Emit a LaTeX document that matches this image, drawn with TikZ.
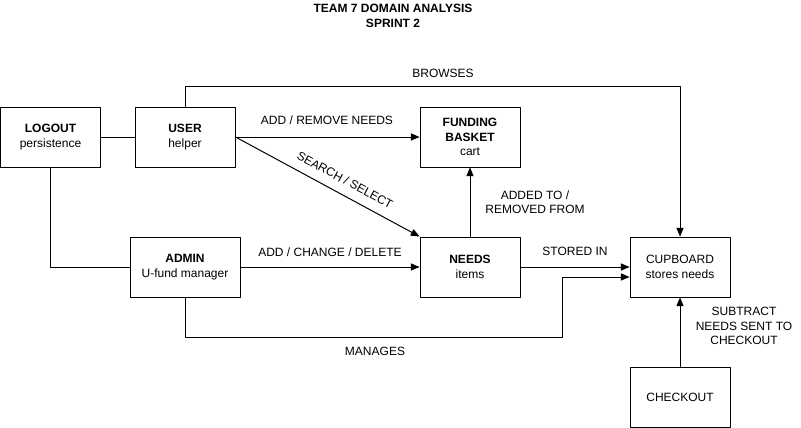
\documentclass[tikz,border=0pt]{standalone}
\usepackage{fontspec}
\setmainfont{Liberation Sans}
\usetikzlibrary{arrows}

\tikzset{
  entity/.style={draw,line width=1pt,minimum width=100pt,minimum height=60pt,inner sep=0pt,align=center,font=\fontsize{12}{14.5}\selectfont},
  tag/.style={align=center,inner sep=1pt,font=\fontsize{12}{14.5}\selectfont},
}

\begin{document}
\begin{tikzpicture}[line cap=round,line join=round,>=triangle 45,x=1pt,y=-1pt,line width=1pt]
\useasboundingbox (0,0) rectangle (801,428);
\node[tag,font=\bfseries\fontsize{12}{15}\selectfont] (title) at (393,16) {TEAM 7 DOMAIN ANALYSIS\\SPRINT 2};
% boxes
\node[entity] (logout) at (50.5,137) {\textbf{LOGOUT}\\persistence};
\node[entity] (user) at (185,137) {\textbf{USER}\\helper};
\node[entity] (basket) at (470,137) {\textbf{FUNDING}\\\textbf{BASKET}\\cart};
\node[entity,minimum width=110pt] (admin) at (185,267) {\textbf{ADMIN}\\U-fund manager};
\node[entity] (needs) at (470,267) {\textbf{NEEDS}\\items};
\node[entity] (cupboard) at (680,267) {CUPBOARD\\stores needs};
\node[entity] (checkout) at (680,397) {CHECKOUT};
% connectors
\draw (logout.east) -- (user.west);
\draw (logout.south) |- (admin.west);
\draw[->] (user.north) -- ++(0,-20) -| (cupboard.north);
\draw[->] (user.east) -- (basket.west);
\draw[->] (user.east) -- (needs.north west);
\draw[->] (admin.east) -- (needs.west);
\draw[->] (needs.north) -- (basket.south);
\draw[->] (needs.east) -- (cupboard.west);
\coordinate (mgturn) at (562,337);
\draw[->] (admin.south) |- (mgturn) |- ([yshift=-10pt]cupboard.west);
\draw[->] (checkout.north) -- (cupboard.south);
% labels
\node[tag] (browseslbl) at (443,73) {BROWSES};
\node[tag] (addremlbl) at (327,120) {ADD / REMOVE NEEDS};
\node[tag,rotate=-28.4] (searchlbl) at (345,180) {SEARCH / SELECT};
\node[tag] (addchglbl) at (330,252) {ADD / CHANGE / DELETE};
\node[tag] (storedlbl) at (575,251) {STORED IN};
\node[tag] (addedlbl) at (535,202) {ADDED TO /\\REMOVED FROM};
\node[tag] (manageslbl) at (375,351) {MANAGES};
\node[tag] (subtractlbl) at (744,326) {SUBTRACT\\NEEDS SENT TO\\CHECKOUT};
\end{tikzpicture}
\end{document}
